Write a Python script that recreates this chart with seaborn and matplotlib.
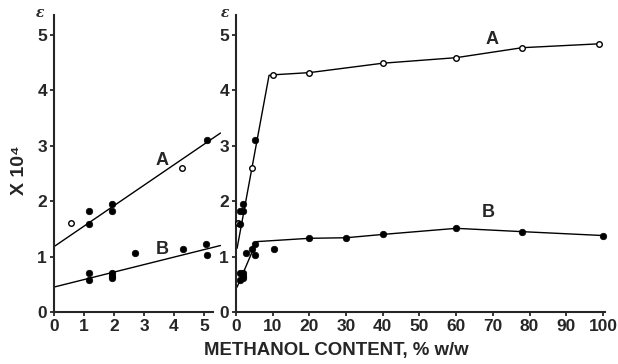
import matplotlib
matplotlib.use("Agg")
import matplotlib.pyplot as plt
import seaborn as sns
import pandas as pd

sns.set_style("ticks")
plt.rcParams['font.family'] = ['Liberation Sans', 'DejaVu Sans']
plt.rcParams['font.weight'] = 'bold'

# ---- low methanol content data (0-5 %) ----
a_open_x = [0.57, 4.27]
a_open_y = [1.61, 2.60]
a_fill_x = [1.18, 1.18, 1.93, 1.93, 5.09]
a_fill_y = [1.82, 1.58, 1.95, 1.82, 3.10]
b_fill_x = [1.18, 1.18, 1.93, 1.93, 1.93, 2.71, 4.29, 5.07, 5.09]
b_fill_y = [0.70, 0.58, 0.70, 0.65, 0.61, 1.06, 1.13, 1.23, 1.03]

# fitted lines, left panel
fitA_x = [0.0, 5.55]
fitA_y = [1.18, 3.23]
fitB_x = [0.0, 5.55]
fitB_y = [0.45, 1.20]

# ---- high methanol content data (10-100 %) ----
a_hi_x = [10, 20, 40, 60, 78, 99]
a_hi_y = [4.28, 4.32, 4.49, 4.59, 4.77, 4.84]
b_hi_x = [10.4, 20, 30, 40, 60, 78, 100]
b_hi_y = [1.13, 1.33, 1.34, 1.40, 1.51, 1.45, 1.38]

# connecting lines, right panel
lineA_x = [0.3, 9.0, 10, 20, 40, 60, 78, 99]
lineA_y = [1.15, 4.27, 4.28, 4.32, 4.49, 4.59, 4.77, 4.84]
lineB_x = [0.3, 5.6, 20, 30, 40, 60, 78, 100]
lineB_y = [0.45, 1.27, 1.33, 1.34, 1.40, 1.51, 1.45, 1.38]

left_xticks = [0, 1, 2, 3, 4, 5]
right_xticks = [0, 10, 20, 30, 40, 50, 60, 70, 80, 90, 100]
yticks = [0, 1, 2, 3, 4, 5]

W, H = 618, 364
fig = plt.figure(figsize=(W / 100, H / 100), dpi=100)
axL = fig.add_axes([54 / W, 52 / H, 166.5 / W, 297 / H])
axR = fig.add_axes([236 / W, 52 / H, 368.8 / W, 297 / H])

FS = 12.5
lw = 1.0

def draw(ax, extra):
    if extra:
        sns.lineplot(x=lineA_x, y=lineA_y, ax=ax, color='black', lw=lw, sort=False)
        sns.lineplot(x=lineB_x, y=lineB_y, ax=ax, color='black', lw=lw, sort=False)
    else:
        sns.lineplot(x=fitA_x, y=fitA_y, ax=ax, color='black', lw=lw)
        sns.lineplot(x=fitB_x, y=fitB_y, ax=ax, color='black', lw=lw)
    ox = a_open_x + (a_hi_x if extra else [])
    oy = a_open_y + (a_hi_y if extra else [])
    fx = a_fill_x + b_fill_x + (b_hi_x if extra else [])
    fy = a_fill_y + b_fill_y + (b_hi_y if extra else [])
    sns.scatterplot(x=ox, y=oy, ax=ax, marker='o', s=16, facecolor='white',
                    edgecolor='black', linewidth=1.0, zorder=5, clip_on=False)
    sns.scatterplot(x=fx, y=fy, ax=ax, marker='o', s=22, color='black',
                    edgecolor='black', linewidth=0.5, zorder=5, clip_on=False)
    ax.set_ylim(0, 5.36)
    ax.set_yticks(yticks)
    ax.set_yticklabels([str(t) for t in yticks], fontsize=FS, fontweight='bold')
    for s in ['top', 'right']:
        ax.spines[s].set_visible(False)
    for s in ['left', 'bottom']:
        ax.spines[s].set_linewidth(1.5)
    ax.tick_params(axis='both', direction='out', length=3, width=1.3, pad=2,
                   labelsize=FS)
    ax.set_facecolor('none')

draw(axL, False)
axL.set_xlim(0, 5.55)
axL.set_xticks(left_xticks)
axL.set_xticklabels([str(t) for t in left_xticks], fontsize=FS, fontweight='bold')
axL.spines['bottom'].set_bounds(0, 5.3)

draw(axR, True)
axR.set_xlim(0, 100.5)
axR.set_xticks(right_xticks)
axR.set_xticklabels([str(t) for t in right_xticks], fontsize=FS, fontweight='bold')

# labels
axL.text(3.6, 2.74, 'A', fontsize=13, fontweight='bold', ha='center', va='center')
axL.text(3.6, 1.12, 'B', fontsize=13, fontweight='bold', ha='center', va='center')
axR.text(69.7, 4.91, 'A', fontsize=13, fontweight='bold', ha='center', va='center')
axR.text(68.8, 1.79, 'B', fontsize=13, fontweight='bold', ha='center', va='center')

fig.text(40 / W, 1 - 13 / H, 'ε', fontsize=10, fontstyle='italic', fontweight='bold',
         family=['DejaVu Serif'], ha='center', va='center')
fig.text(225 / W, 1 - 13 / H, 'ε', fontsize=10, fontstyle='italic', fontweight='bold',
         family=['DejaVu Serif'], ha='center', va='center')
fig.text(20 / W, 1 - 170 / H, 'X 10⁴', fontsize=14, fontweight='bold', rotation=90,
         ha='center', va='center', family=['Liberation Sans', 'DejaVu Sans'])
fig.text(336 / W, 1 - 350 / H, 'METHANOL CONTENT, % w/w', fontsize=13.4,
         fontweight='bold', ha='center', va='center')

fig.savefig('out.png', dpi=100)
